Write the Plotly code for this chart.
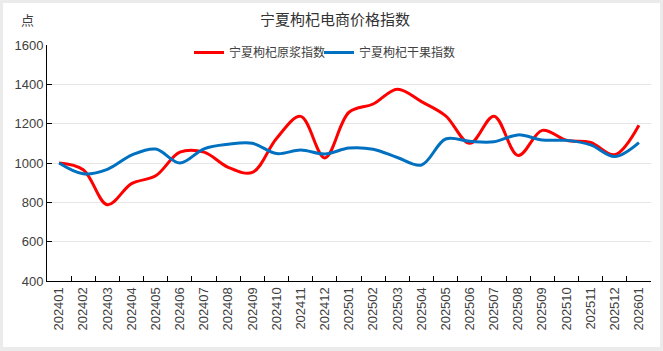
import plotly.graph_objects as go

months = ["202401", "202402", "202403", "202404", "202405", "202406", "202407", "202408",
          "202409", "202410", "202411", "202412", "202501", "202502", "202503", "202504",
          "202505", "202506", "202507", "202508", "202509", "202510", "202511", "202512",
          "202601"]
yuanjiang = [1000, 966, 788, 895, 935, 1055, 1055, 978, 952, 1125, 1237, 1026, 1258, 1300,
             1375, 1312, 1240, 1100, 1238, 1038, 1166, 1116, 1105, 1042, 1192]
ganguo = [1000, 945, 968, 1040, 1071, 1000, 1072, 1095, 1100, 1048, 1066, 1046, 1076, 1070,
          1028, 990, 1122, 1110, 1108, 1143, 1117, 1115, 1092, 1033, 1104]
yticks = [400, 600, 800, 1000, 1200, 1400, 1600]

W, H = 663, 351
L, R, T, B = 47, 12, 45, 70
pw, ph = W - L - R, H - T - B

fig = go.Figure()
fig.add_trace(go.Scatter(x=months, y=yuanjiang, name="宁夏枸杞原浆指数", mode="lines",
                         legend="legend",
                         line=dict(color="#ff0000", width=3, shape="spline", smoothing=1)))
fig.add_trace(go.Scatter(x=months, y=ganguo, name="宁夏枸杞干果指数", mode="lines",
                         legend="legend2",
                         line=dict(color="#0070c0", width=3, shape="spline", smoothing=1)))

def px(xp):
    return (xp - L) / pw

def py(yp):
    return (H - B - yp) / ph

legend_font = dict(family="Noto Sans CJK SC", size=12, color="#404040")

fig.update_layout(
    width=W, height=H,
    margin=dict(l=L, r=R, t=T, b=B, pad=0),
    paper_bgcolor="#ebebeb",
    plot_bgcolor="white",
    font=dict(family="Liberation Sans, Noto Sans CJK SC", size=13, color="#404040"),
    title=dict(text="宁夏枸杞电商价格指数", x=335 / W, xref="container", xanchor="center",
               y=1 - 20 / H, yref="container", yanchor="middle",
               font=dict(family="Noto Sans CJK SC", size=15, color="#333333")),
    showlegend=True,
    legend=dict(orientation="h", x=px(189), xanchor="left", y=py(38), yanchor="top",
                bgcolor="rgba(0,0,0,0)", font=legend_font, itemwidth=30),
    legend2=dict(orientation="h", x=px(319), xanchor="left", y=py(38), yanchor="top",
                 bgcolor="rgba(0,0,0,0)", font=legend_font, itemwidth=30),
    shapes=[dict(type="rect", xref="paper", yref="paper", x0=px(3), x1=px(660), y0=py(347), y1=py(3),
                 fillcolor="white", line=dict(width=0), layer="below")],
    annotations=[dict(text="点", xref="paper", yref="paper", x=px(27), y=py(19), showarrow=False,
                      xanchor="center", yanchor="middle",
                      font=dict(family="Noto Sans CJK SC", size=13, color="#404040"))],
)
fig.update_xaxes(type="category", range=[-0.5, len(months) - 0.5], tickangle=-90,
                 showline=True, linecolor="black", linewidth=1, showgrid=False,
                 ticks="inside", tickson="boundaries", ticklen=5, tickcolor="black",
                 tickfont=dict(family="Liberation Sans", size=13, color="#404040"))
fig.update_yaxes(range=[400, 1600], tickvals=yticks, showline=True, linecolor="black", linewidth=1,
                 showgrid=True, gridcolor="#e6e6e6", gridwidth=1, zeroline=False,
                 ticks="inside", ticklen=5, tickcolor="black",
                 tickfont=dict(family="Liberation Sans", size=13, color="#404040"))

fig.write_html("out.html")
